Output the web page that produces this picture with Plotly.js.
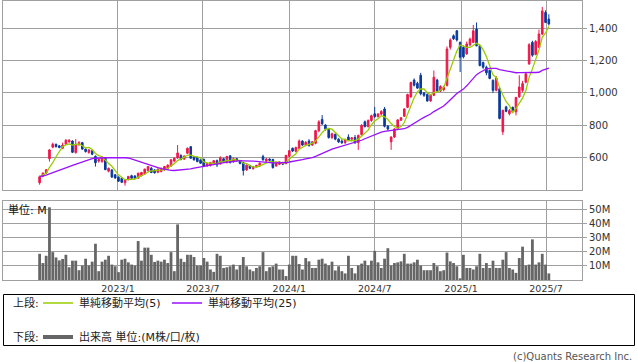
<!DOCTYPE html>
<html>
<head>
<meta charset="utf-8">
<script src="https://cdn.plot.ly/plotly-3.0.1.min.js"></script>
<style>
html,body{margin:0;padding:0;background:#fff;}
#chart{width:638px;height:362px;}
</style>
</head>
<body>
<div id="chart"></div>
<script>
// Weekly dates (Monday of each week)
const weeks = [
"2022-07-18","2022-07-25","2022-08-01","2022-08-08","2022-08-15","2022-08-22","2022-08-29","2022-09-05","2022-09-12","2022-09-19",
"2022-09-26","2022-10-03","2022-10-10","2022-10-17","2022-10-24","2022-10-31","2022-11-07","2022-11-14","2022-11-21","2022-11-28",
"2022-12-05","2022-12-12","2022-12-19","2022-12-26",
"2023-01-02","2023-01-09","2023-01-16","2023-01-23","2023-01-30","2023-02-06","2023-02-13","2023-02-20","2023-02-27","2023-03-06",
"2023-03-13","2023-03-20","2023-03-27","2023-04-03","2023-04-10","2023-04-17","2023-04-24","2023-05-01","2023-05-08","2023-05-15",
"2023-05-22","2023-05-29","2023-06-05","2023-06-12","2023-06-19","2023-06-26","2023-07-03","2023-07-10","2023-07-17","2023-07-24",
"2023-07-31","2023-08-07","2023-08-14","2023-08-21","2023-08-28","2023-09-04","2023-09-11","2023-09-18","2023-09-25","2023-10-02",
"2023-10-09","2023-10-16","2023-10-23","2023-10-30","2023-11-06","2023-11-13","2023-11-20","2023-11-27","2023-12-04","2023-12-11",
"2023-12-18","2023-12-25",
"2024-01-01","2024-01-08","2024-01-15","2024-01-22","2024-01-29","2024-02-05","2024-02-12","2024-02-19","2024-02-26","2024-03-04",
"2024-03-11","2024-03-18","2024-03-25","2024-04-01","2024-04-08","2024-04-15","2024-04-22","2024-04-29","2024-05-06","2024-05-13",
"2024-05-20","2024-05-27","2024-06-03","2024-06-10","2024-06-17","2024-06-24","2024-07-01","2024-07-08","2024-07-15","2024-07-22",
"2024-07-29","2024-08-05","2024-08-12","2024-08-19","2024-08-26","2024-09-02","2024-09-09","2024-09-16","2024-09-23","2024-09-30",
"2024-10-07","2024-10-14","2024-10-21","2024-10-28","2024-11-04","2024-11-11","2024-11-18","2024-11-25","2024-12-02","2024-12-09",
"2024-12-16","2024-12-23","2024-12-30",
"2025-01-06","2025-01-13","2025-01-20","2025-01-27","2025-02-03","2025-02-10","2025-02-17","2025-02-24","2025-03-03","2025-03-10",
"2025-03-17","2025-03-24","2025-03-31","2025-04-07","2025-04-14","2025-04-21","2025-04-28","2025-05-05","2025-05-12","2025-05-19",
"2025-05-26","2025-06-02","2025-06-09","2025-06-16","2025-06-23","2025-06-30","2025-07-07"
];

const opens = [
440,480,500,590,662,680,670,655,680,695,
700,628,678,690,650,628,640,605,575,572,
595,512,520,490,475,468,440,460,484,482,
470,484,496,517,531,520,505,510,
521,528,545,575,595,610,588,624,665,603,598,583,
585,545,548,556,578,558,590,566,608,570,
590,578,566,520,548,528,540,545,603,575,
588,585,545,555,566,560,
605,655,636,655,700,675,700,675,686,765,
835,800,775,722,742,712,700,690,725,712,
722,690,740,820,790,828,870,852,868,900,
792,695,725,778,830,855,910,975,1080,1060,
1110,1000,990,950,985,1080,1012,1020,1047,1284,
1356,1387,1315,1284,1243,1300,1315,1398,1294,1190,
1160,1140,1078,1016,1026,758,913,870,910,882,
975,1016,1067,1181,1315,1240,1284,1367,1501,1460
];
const highs = [
485,505,525,650,690,684,675,690,712,712,
705,712,700,695,655,650,645,610,592,605,
600,535,525,495,480,472,462,482,490,488,
502,508,528,545,538,525,528,535,
545,555,588,598,675,618,612,660,668,608,602,590,
592,565,570,582,585,605,595,608,612,598,
595,582,570,555,552,545,552,566,615,595,
592,590,572,575,570,615,
645,660,665,710,705,700,712,700,770,830,
862,805,782,752,748,718,712,715,742,725,
738,740,805,828,835,865,912,875,892,912,
800,730,780,836,850,905,995,1070,1090,1070,
1125,1005,998,990,1140,1088,1048,1045,1290,1340,
1365,1392,1320,1295,1320,1345,1424,1439,1300,1195,
1170,1145,1085,1105,1035,895,920,900,915,975,
1110,1075,1125,1310,1325,1330,1395,1536,1515,1490
];
const lows = [
428,475,495,572,655,660,655,650,676,690,
625,622,670,645,628,622,612,541,565,565,
518,505,470,465,445,440,422,455,465,462,
465,480,490,512,500,498,500,505,
515,522,540,568,590,580,582,620,590,578,568,558,
538,540,542,550,538,552,565,560,560,565,
572,555,485,515,525,522,535,540,578,570,
575,528,540,550,550,555,
600,632,630,650,670,668,665,670,680,755,
800,765,715,712,705,688,682,682,700,698,
682,645,735,785,785,820,845,848,860,785,
765,645,720,775,825,850,905,970,1040,1025,
985,975,945,945,980,1005,1005,1010,1040,1270,
1330,1320,1130,1215,1238,1290,1310,1290,1165,1150,
1110,1085,1000,1010,835,738,880,860,878,860,
970,1005,1060,1175,1225,1235,1280,1360,1435,1420
];
const closes = [
478,500,521,645,680,665,660,675,705,705,
630,680,690,650,635,645,618,565,585,600,
522,530,476,470,450,443,458,480,468,468,
500,504,525,541,504,502,525,530,
541,550,583,593,626,585,605,655,593,583,572,562,
541,560,566,578,552,596,570,604,566,590,
578,560,517,550,530,540,548,562,583,588,
580,535,567,570,556,610,
640,638,660,700,675,692,672,695,765,820,
808,775,722,745,712,695,690,708,705,720,
690,735,798,790,828,858,852,868,885,792,
775,725,775,832,845,900,990,1065,1048,1030,
995,985,950,985,1098,1012,1040,1035,1274,1330,
1338,1330,1222,1225,1305,1335,1387,1294,1171,1160,
1125,1090,1016,1094,841,892,885,890,882,972,
1037,1058,1119,1300,1235,1320,1367,1511,1439,1430
];
// Volume in millions of shares
const volumes = [
18.7,12.1,17.3,51.9,19.9,16.1,14.0,15.0,18.0,9.1,
13.8,13.8,7.0,10.3,15.2,10.3,13.1,25.9,6.3,13.1,
14.5,17.3,11.0,9.8,5.6,14.5,15.2,12.6,11.0,10.3,
27.8,13.8,23.1,23.1,18.0,12.9,13.8,13.1,
14.5,12.1,19.9,6.3,39.7,15.2,12.9,18.0,18.0,16.4,10.3,10.3,
15.7,13.1,7.5,5.8,18.7,17.3,8.6,9.1,9.8,11.0,
7.5,10.5,16.4,9.8,7.5,6.3,8.6,9.8,19.9,6.3,
9.1,9.8,11.7,7.5,7.5,2.8,
11.0,17.3,17.3,11.4,7.5,15.7,13.3,8.6,8.6,14.5,
15.2,11.7,10.3,13.1,6.8,9.8,6.3,4.7,17.3,8.6,
4.7,10.3,11.7,13.8,10.3,13.8,20.8,12.6,8.6,15.2,
22.7,10.3,12.1,12.6,13.3,18.7,11.7,11.7,12.6,14.5,
10.3,7.0,7.0,7.0,12.1,9.8,6.3,7.0,19.6,13.3,
12.1,9.8,1.2,18.0,8.6,8.6,7.5,9.8,18.7,8.6,
12.1,8.6,13.8,8.6,8.6,14.5,19.9,8.6,7.5,5.1,
15.7,23.8,10.3,11.0,29.0,11.0,12.6,18.7,11.0,4.7
];
// 25-week average values for the first weeks (needs earlier history)
const ma25Lead = [478,482,488,495,502,508,515,522,530,540,548,555,562,570,578,586,590,593,595,595,596,596,596,596];

const tickDates = ["2023-01-01","2023-07-01","2024-01-01","2024-07-01","2025-01-01","2025-07-01"];
const tickLabels = ["2023/1","2023/7","2024/1","2024/7","2025/1","2025/7"];
const priceTicks = [600,800,1000,1200,1400];
const volTicks = [10,20,30,40,50];
const volTickLabels = ["10M","20M","30M","40M","50M"];

// moving averages
const ma5 = closes.map((c,i)=>{const s=closes.slice(Math.max(0,i-4),i+1);return s.reduce((a,b)=>a+b,0)/s.length;});
const ma25 = closes.map((c,i)=>{
  if(i<24) return ma25Lead[i];
  const s=closes.slice(i-24,i+1);return s.reduce((a,b)=>a+b,0)/25;
});

const W=638,H=362;
const X=px=>px/W, Y=py=>1-py/H;
const GRID="#a0a0a0";
const FONT="DejaVu Sans, Noto Sans CJK JP, sans-serif";
const UP="#f0164a", DOWN="#0b3a9c";

const traces = [
  {type:"candlestick", x:weeks, open:opens, high:highs, low:lows, close:closes,
   xaxis:"x", yaxis:"y",
   increasing:{line:{color:UP,width:1},fillcolor:UP},
   decreasing:{line:{color:DOWN,width:1},fillcolor:DOWN},
   whiskerwidth:0, hoverinfo:"skip", showlegend:false},
  {type:"scatter", mode:"lines", x:weeks, y:ma5, xaxis:"x", yaxis:"y",
   line:{color:"#99cc00",width:1.3}, hoverinfo:"skip", showlegend:false},
  {type:"scatter", mode:"lines", x:weeks, y:ma25, xaxis:"x", yaxis:"y",
   line:{color:"#9a10ff",width:1.3}, hoverinfo:"skip", showlegend:false},
  {type:"bar", x:weeks, y:volumes, xaxis:"x2", yaxis:"y2",
   marker:{color:"#666666",line:{width:0}}, hoverinfo:"skip", showlegend:false}
];

const xRange = ["2022-05-01","2025-09-15 16:00"];
const txt = (x,y,t,opt)=>Object.assign({x:X(x),y:Y(y),xref:"paper",yref:"paper",text:t,showarrow:false,
   xanchor:"left",yanchor:"middle",font:{family:FONT,size:11,color:"#222"}},opt||{});

const layout = {
  width:W, height:H,
  margin:{l:0,r:0,t:0,b:0,pad:0},
  paper_bgcolor:"#fff", plot_bgcolor:"#fff",
  showlegend:false, bargap:0.15, dragmode:false,
  xaxis:{domain:[X(3),X(582)], range:xRange, type:"date", anchor:"y",
    tickvals:tickDates, ticktext:tickLabels, showticklabels:false, ticks:"",
    showgrid:true, gridcolor:GRID, gridwidth:1, zeroline:false,
    showline:true, mirror:true, linecolor:GRID, linewidth:1,
    rangeslider:{visible:false}, fixedrange:true},
  yaxis:{domain:[Y(190),Y(0.5)], range:[395,1576], side:"right", anchor:"x",
    tickvals:priceTicks, tickformat:",d", ticks:"outside", ticklen:4, tickcolor:GRID,
    showgrid:true, gridcolor:GRID, gridwidth:1, zeroline:false,
    showline:true, mirror:true, linecolor:GRID, linewidth:1,
    tickfont:{family:FONT,size:10,color:"#333"}, fixedrange:true},
  xaxis2:{domain:[X(3),X(582)], range:xRange, type:"date", anchor:"y2",
    tickvals:tickDates, ticktext:tickLabels, ticks:"",
    showgrid:true, gridcolor:GRID, gridwidth:1, zeroline:false,
    showline:true, mirror:true, linecolor:GRID, linewidth:1,
    tickfont:{family:FONT,size:9.5,color:"#333"}, fixedrange:true},
  yaxis2:{domain:[Y(280),Y(201)], range:[0,56.4], side:"right", anchor:"x2",
    tickvals:volTicks, ticktext:volTickLabels, ticks:"outside", ticklen:4, tickcolor:GRID,
    showgrid:true, gridcolor:GRID, gridwidth:1, zeroline:false,
    showline:true, mirror:true, linecolor:GRID, linewidth:1,
    tickfont:{family:FONT,size:10,color:"#333"}, fixedrange:true},
  shapes:[
    {type:"rect",xref:"paper",yref:"paper",x0:X(3.5),x1:X(634.5),y0:Y(345.5),y1:Y(294.5),line:{color:"#000",width:1}},
    {type:"line",xref:"paper",yref:"paper",x0:X(43),x1:X(73),y0:Y(303),y1:Y(303),line:{color:"#99cc00",width:1.5}},
    {type:"line",xref:"paper",yref:"paper",x0:X(172),x1:X(202),y0:Y(303),y1:Y(303),line:{color:"#9a10ff",width:1.5}},
    {type:"line",xref:"paper",yref:"paper",x0:X(43),x1:X(73),y0:Y(337),y1:Y(337),line:{color:"#666",width:4}}
  ],
  annotations:[
    txt(6,210,"単位: M",{font:{family:FONT,size:11,color:"#111"}}),
    txt(11,303,"上段:"),
    txt(77,303,"単純移動平均(5)"),
    txt(206,303,"単純移動平均(25)"),
    txt(11,337,"下段:"),
    txt(77,337,"出来高 単位:(M株/口/枚)"),
    txt(634,356,"(c)Quants Research Inc.",{xanchor:"right",font:{family:FONT,size:10,color:"#555"}})
  ]
};

Plotly.newPlot("chart", traces, layout, {staticPlot:true, displayModeBar:false});
</script>
</body>
</html>
